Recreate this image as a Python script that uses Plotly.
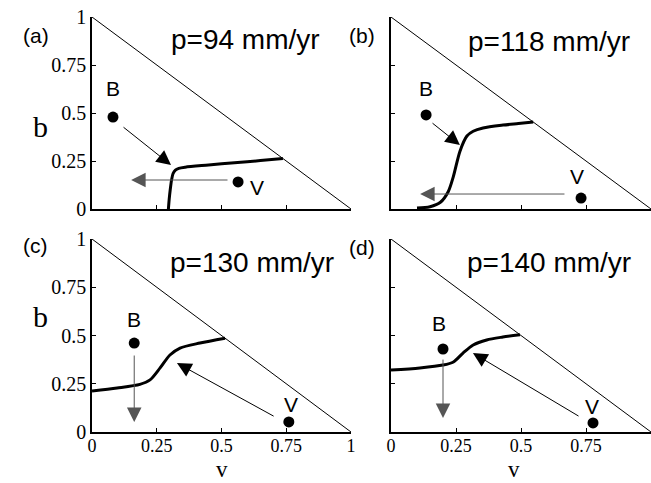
import plotly.graph_objects as go

# ---------------- data ----------------
titles = ["p=94 mm/yr", "p=118 mm/yr", "p=130 mm/yr", "p=140 mm/yr"]
panel_tags = ["(a)", "(b)", "(c)", "(d)"]

# equilibrium curves (v, b)
curve_v = [
    [0.295, 0.298, 0.302, 0.307, 0.313, 0.322, 0.335, 0.36, 0.45, 0.55, 0.65, 0.737],
    [0.10, 0.15, 0.19, 0.22, 0.24, 0.265, 0.292, 0.316, 0.354, 0.431, 0.49, 0.547],
    [0.0, 0.097, 0.185, 0.224, 0.263, 0.301, 0.34, 0.417, 0.514],
    [0.0, 0.111, 0.2, 0.24, 0.277, 0.316, 0.368, 0.43, 0.496],
]
curve_b = [
    [0.0, 0.05, 0.10, 0.15, 0.185, 0.203, 0.212, 0.218, 0.229, 0.241, 0.252, 0.263],
    [0.005, 0.012, 0.035, 0.09, 0.17, 0.30, 0.38, 0.405, 0.422, 0.437, 0.445, 0.453],
    [0.212, 0.228, 0.247, 0.27, 0.332, 0.399, 0.435, 0.461, 0.486],
    [0.321, 0.332, 0.347, 0.363, 0.409, 0.451, 0.477, 0.492, 0.504],
]

# B and V states (v, b)
B_pt = [(0.081, 0.479), (0.135, 0.49), (0.163, 0.461), (0.2, 0.43)]
V_pt = [(0.564, 0.141), (0.731, 0.057), (0.760, 0.052), (0.777, 0.047)]
B_lbl = [(0.081, 0.63), (0.135, 0.63), (0.163, 0.585), (0.185, 0.56)]
V_lbl = [(0.637, 0.11), (0.715, 0.167), (0.77, 0.14), (0.773, 0.13)]

# arrows: (v_start, b_start, v_head, b_head)
B_arrow = [(0.116, 0.432, 0.305, 0.229), (0.154, 0.453, 0.265, 0.333),
           (0.163, 0.404, 0.163, 0.052), (0.2, 0.383, 0.2, 0.073)]
V_arrow = [(0.529, 0.151, 0.151, 0.151), (0.673, 0.078, 0.112, 0.078),
           (0.707, 0.078, 0.328, 0.357), (0.727, 0.078, 0.315, 0.409)]

tick_vals = [0, 0.25, 0.5, 0.75, 1]
tick_text = ["0", "0.25", "0.5", "0.75", "1"]
diag_v = [0, 1]
diag_b = [1, 0]

# ---------------- layout ----------------
W, H = 651, 483
xdom = [[92 / W, 351 / W], [391 / W, 1.0], [92 / W, 351 / W], [391 / W, 1.0]]
ydom = [[(H - 209) / H, (H - 17) / H], [(H - 209) / H, (H - 17) / H],
        [(H - 432) / H, (H - 239) / H], [(H - 432) / H, (H - 239) / H]]
title_px = [(246, 40), (549, 41), (252, 262), (549, 262)]
tag_px = [(21, 22), (362, 22), (21, 245), (362, 248)]

fig = go.Figure()
serif = "Liberation Serif"
sans = "Liberation Sans"

for i in range(4):
    xa = "x" if i == 0 else f"x{i+1}"
    ya = "y" if i == 0 else f"y{i+1}"
    fig.add_trace(go.Scatter(x=diag_v, y=diag_b, mode="lines",
                             line=dict(color="black", width=1),
                             xaxis=xa, yaxis=ya, showlegend=False, hoverinfo="skip",
                             cliponaxis=False))
    fig.add_trace(go.Scatter(x=curve_v[i], y=curve_b[i], mode="lines",
                             line=dict(color="black", width=3, shape="spline", smoothing=0.8),
                             xaxis=xa, yaxis=ya, showlegend=False, hoverinfo="skip"))
    fig.add_trace(go.Scatter(x=[B_pt[i][0], V_pt[i][0]], y=[B_pt[i][1], V_pt[i][1]],
                             mode="markers", marker=dict(color="black", size=11),
                             xaxis=xa, yaxis=ya, showlegend=False, hoverinfo="skip"))
    for (lv, lb), t in [(B_lbl[i], "B"), (V_lbl[i], "V")]:
        fig.add_annotation(x=lv, y=lb, xref=xa, yref=ya, text=t, showarrow=False,
                           font=dict(family=sans, size=21, color="black"))
    for arr in (B_arrow[i], V_arrow[i]):
        v0, b0, v1, b1 = arr
        axis_aligned = (abs(v0 - v1) < 1e-9) or (abs(b0 - b1) < 1e-9)
        fig.add_annotation(x=v1, y=b1, ax=v0, ay=b0, xref=xa, yref=ya,
                           axref=xa, ayref=ya, text="", showarrow=True,
                           arrowhead=2, arrowsize=2.9, arrowwidth=1,
                           arrowcolor="#555555" if axis_aligned else "black")
    fig.add_annotation(x=title_px[i][0] / W, y=(H - title_px[i][1]) / H,
                       xref="paper", yref="paper", text=titles[i],
                       showarrow=False, font=dict(family=sans, size=28, color="black"),
                       xanchor="center", yanchor="middle")
    fig.add_annotation(x=tag_px[i][0] / W, y=(H - tag_px[i][1]) / H,
                       xref="paper", yref="paper", text=panel_tags[i],
                       showarrow=False, font=dict(family=sans, size=21, color="black"))

    axis_common = dict(range=[0, 1], tickvals=tick_vals, ticktext=tick_text,
                       ticks="inside", ticklen=4, tickwidth=1, tickcolor="black",
                       showline=True, linecolor="black", linewidth=1.5,
                       showgrid=False, zeroline=False, automargin=False)
    xkey = "xaxis" if i == 0 else f"xaxis{i+1}"
    ykey = "yaxis" if i == 0 else f"yaxis{i+1}"
    fig.update_layout({
        xkey: dict(axis_common, domain=xdom[i], anchor=ya,
                   showticklabels=(i >= 2),
                   tickfont=dict(family=serif, size=18, color="black")),
        ykey: dict(axis_common, domain=ydom[i], anchor=xa,
                   showticklabels=(i % 2 == 0),
                   tickfont=dict(family=serif, size=20, color="black")),
    })
    try:
        fig.layout[xkey].ticklabelstandoff = -3
    except Exception:
        pass

# axis titles
for yy in [108, 335]:
    fig.add_annotation(x=31 / W, y=(H - yy) / H, xref="paper", yref="paper", text="b",
                       showarrow=False, font=dict(family=serif, size=30, color="black"))
for xx in [222, 521]:
    fig.add_annotation(x=xx / W, y=0, xref="paper", yref="paper", text="v",
                       showarrow=False, yanchor="bottom", borderpad=0,
                       font=dict(family=serif, size=23, color="black"))

fig.update_layout(width=W, height=H,
                  margin=dict(l=0, r=0, t=0, b=0, autoexpand=False),
                  paper_bgcolor="white", plot_bgcolor="white")

fig.write_html("out.html")
